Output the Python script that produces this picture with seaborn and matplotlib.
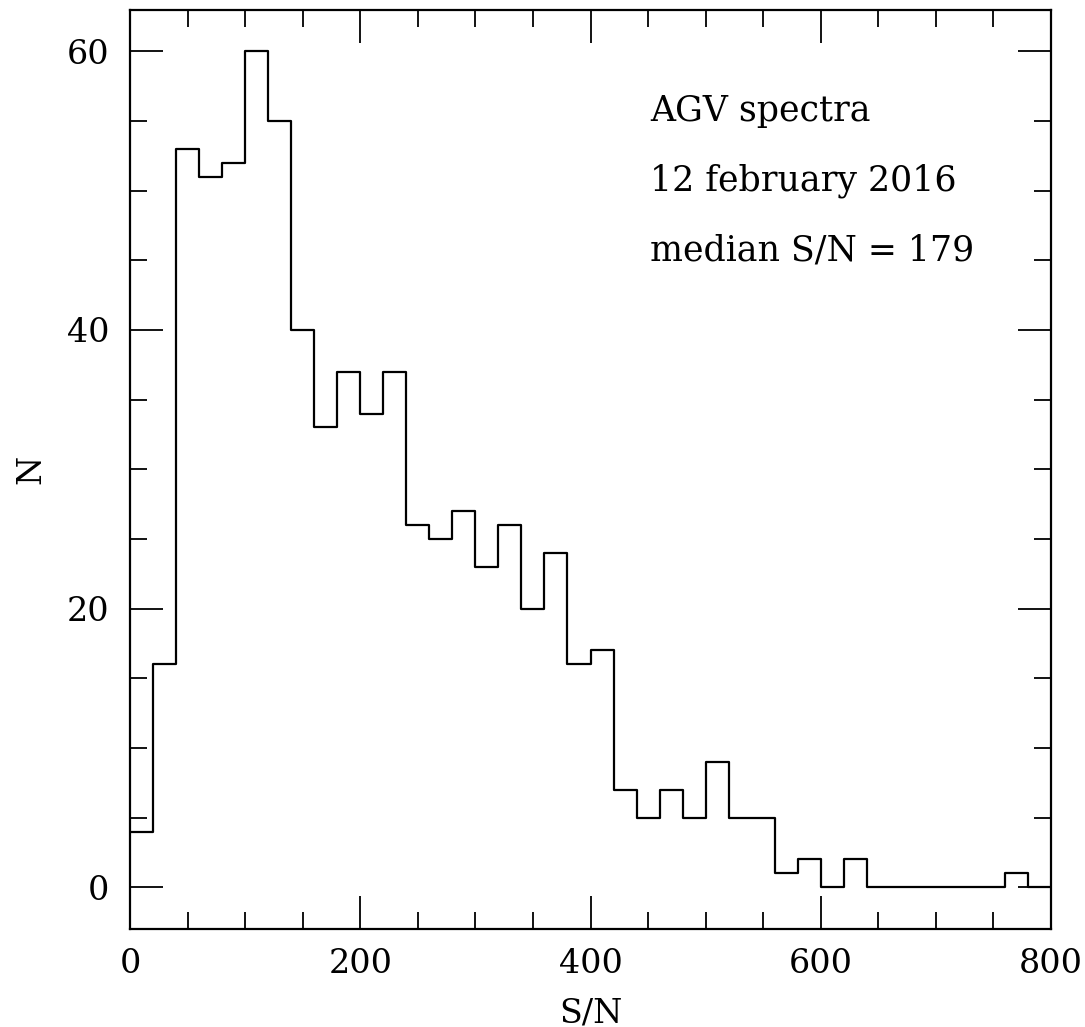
import numpy as np
import pandas as pd
import seaborn as sns
import matplotlib
matplotlib.use("Agg")
import matplotlib.pyplot as plt
from matplotlib.ticker import MultipleLocator

# Data: histogram of S/N with 20-wide bins from 0 to 800
bin_edges = list(range(0, 820, 20))
counts = [4, 16, 53, 51, 52, 60, 55, 40, 33, 37,
          34, 37, 26, 25, 27, 23, 26, 20, 24, 16,
          17, 7, 5, 7, 5, 9, 5, 5, 1, 2,
          0, 2, 0, 0, 0, 0, 0, 0, 1, 0]
annotations = ["AGV spectra", "12 february 2016", "median S/N = 179"]
x_label = "S/N"
y_label = "N"

centers = [(bin_edges[i] + bin_edges[i + 1]) / 2 for i in range(len(counts))]
df = pd.DataFrame({"sn": centers, "n": counts})

sns.set_theme(style="ticks")
plt.rcParams["font.family"] = ["DejaVu Serif"]
plt.rcParams["text.color"] = "black"
plt.rcParams["axes.labelcolor"] = "black"

fig = plt.figure(figsize=(10.85, 10.27), dpi=100)
ax = fig.add_axes([0.1198, 0.0954, 0.9687 - 0.1198, 0.9907 - 0.0954])

sns.histplot(data=df, x="sn", weights="n", bins=bin_edges, element="step",
             fill=False, color="black", linewidth=1.6, ax=ax)

ax.set_xlim(0, 800)
ax.set_ylim(-3, 63)
ax.xaxis.set_major_locator(MultipleLocator(200))
ax.xaxis.set_minor_locator(MultipleLocator(50))
ax.yaxis.set_major_locator(MultipleLocator(20))
ax.yaxis.set_minor_locator(MultipleLocator(5))
ax.tick_params(which="both", direction="in", top=True, right=True,
               color="black", width=1.3, labelsize=24, labelcolor="black")
ax.tick_params(which="major", length=24)
ax.tick_params(axis="x", which="major", pad=14)
ax.tick_params(axis="y", which="major", pad=15)
ax.tick_params(which="minor", length=12)
for s in ax.spines.values():
    s.set_linewidth(1.6)
    s.set_color("black")

ax.set_xlabel(x_label, fontsize=24)
ax.set_ylabel(y_label, fontsize=24)
ax.xaxis.set_label_coords(0.5, -0.074)
ax.yaxis.set_label_coords(-0.090, 0.5)

for i, t in enumerate(annotations):
    ax.text(452, 55.7 - 5.0 * i, t, fontsize=25, va="center", ha="left",
            color="black")

fig.savefig("out.png", dpi=100)
